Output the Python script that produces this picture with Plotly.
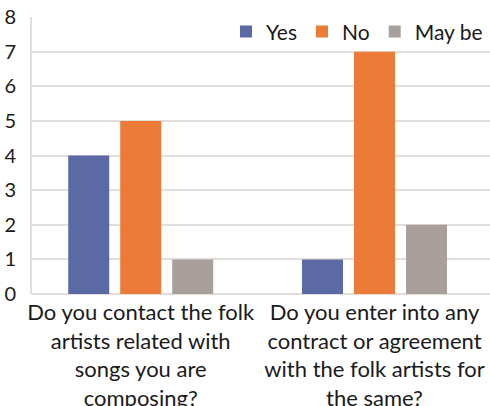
import plotly.graph_objects as go

categories = [
    "Do you contact the folk<br>artists related with<br>songs you are<br>composing?",
    "Do you enter into any<br>contract or agreement<br>with the folk artists for<br>the same?",
]
series_names = ["Yes", "No", "May be"]
yes_values = [4, 1]
no_values = [5, 7]
maybe_values = [1, 2]
y_ticks = [0, 1, 2, 3, 4, 5, 6, 7, 8]

colors = ["#5B69A5", "#EB7B37", "#A9A09B"]
font_family = "Lato, 'Open Sans', sans-serif"
text_color = "#1a1a1a"
grid_color = "#E4DEDA"

fig = go.Figure()
for name, vals, col in zip(series_names, [yes_values, no_values, maybe_values], colors):
    fig.add_trace(go.Bar(name=name, x=categories, y=vals, marker_color=col,
                         marker_line_width=0))

fig.update_layout(
    width=490, height=406,
    margin=dict(l=32, r=0, t=17, b=112, pad=0),
    paper_bgcolor="white", plot_bgcolor="white",
    barmode="group", bargap=0.333, bargroupgap=0.211,
    font=dict(family=font_family, color=text_color, size=20),
    showlegend=True,
    legend=dict(orientation="h", x=0.4236, y=1.02, xanchor="left", yanchor="top",
                bgcolor="rgba(255,255,255,0)", font=dict(size=21),
                itemwidth=30, traceorder="normal"),
)
fig.update_xaxes(
    type="category", range=[-0.465, 1.494], showgrid=False, automargin=False,
    tickfont=dict(size=22), ticks="", showline=False, tickangle=0,
    ticklabelstandoff=3,
)
fig.update_yaxes(
    range=[0, 8], tickvals=y_ticks, showgrid=True, gridcolor=grid_color, gridwidth=2,
    zeroline=True, zerolinecolor=grid_color, zerolinewidth=2, automargin=False,
    showline=True, linecolor=grid_color, linewidth=2,
    tickfont=dict(size=20), ticks="", ticklabelstandoff=10,
)

fig.write_html("out.html")
